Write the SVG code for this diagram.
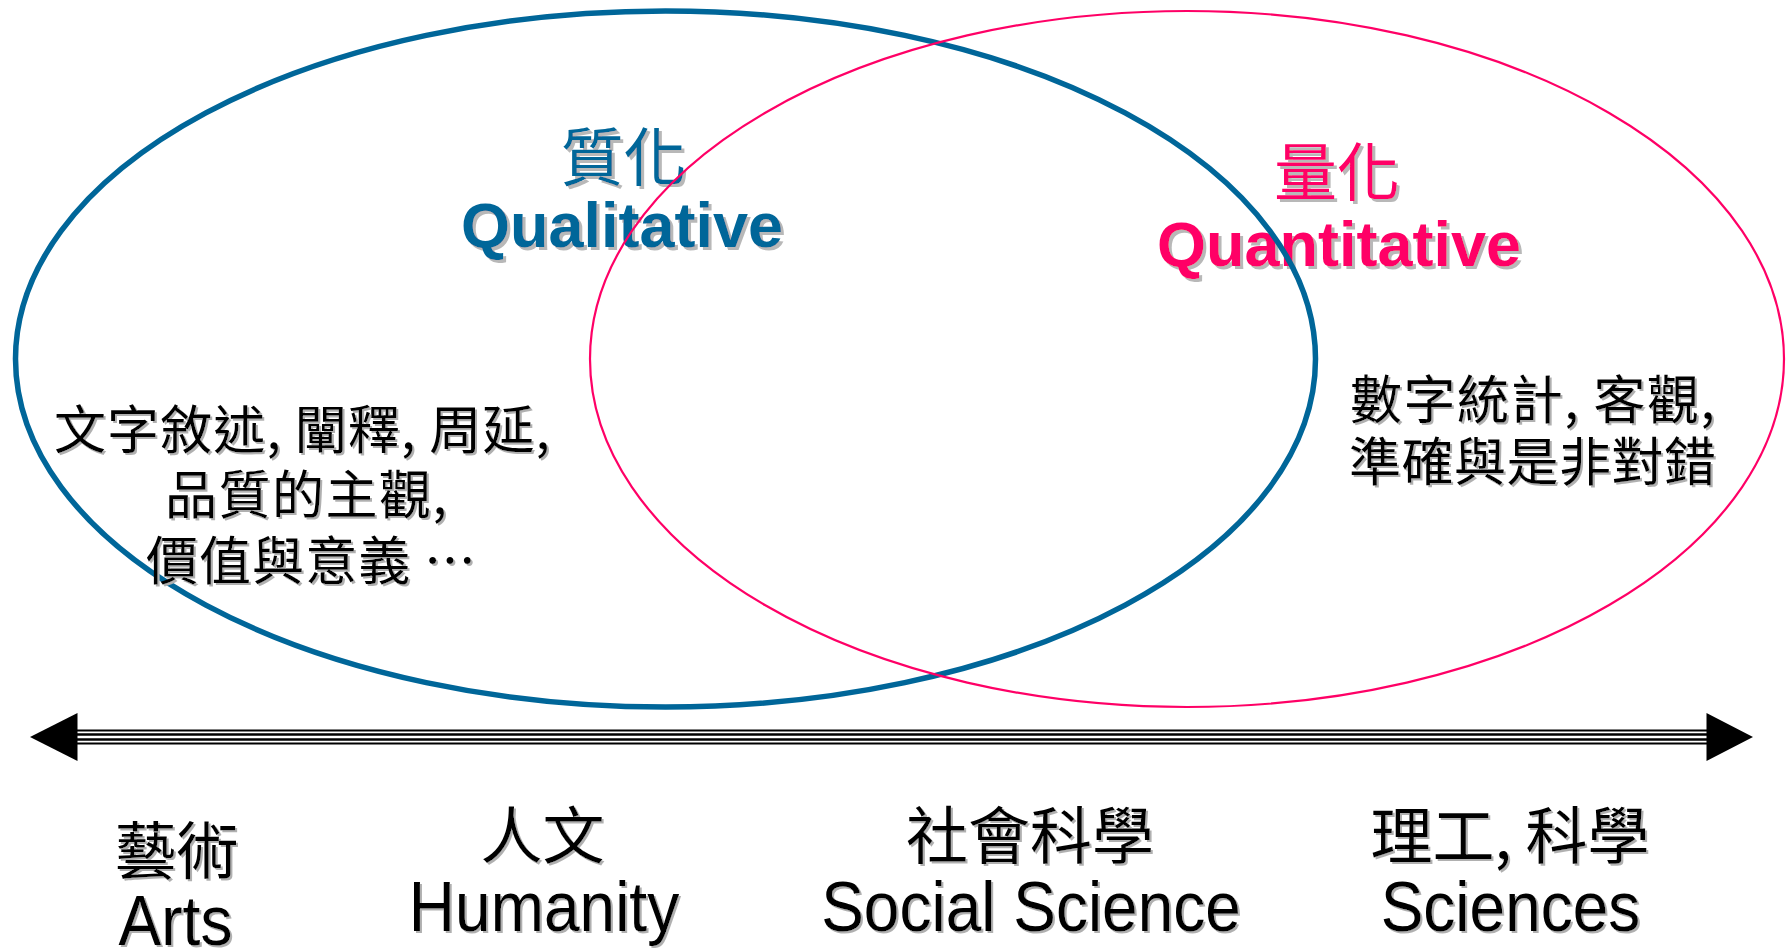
<svg xmlns="http://www.w3.org/2000/svg" width="1787" height="951" viewBox="0 0 1787 951">
<defs>
<filter id="sh" x="-5%" y="-20%" width="115%" height="150%">
<feFlood flood-color="#b0b0b0" result="c"/>
<feComposite in="c" in2="SourceAlpha" operator="in" result="s"/>
<feOffset in="s" dx="2" dy="2" result="o"/>
<feMerge><feMergeNode in="o"/><feMergeNode in="SourceGraphic"/></feMerge>
</filter>
<filter id="sh3" x="-5%" y="-20%" width="115%" height="150%">
<feFlood flood-color="#b8b8b8" result="c"/>
<feComposite in="c" in2="SourceAlpha" operator="in" result="s"/>
<feOffset in="s" dx="3" dy="3" result="o"/>
<feMerge><feMergeNode in="o"/><feMergeNode in="SourceGraphic"/></feMerge>
</filter>
</defs>
<style>
.cjk{font-family:"Noto Sans CJK TC","Noto Sans CJK SC",sans-serif;}
.lat{font-family:"Liberation Sans",Arial,sans-serif;}
.bold{font-weight:bold;}
.blue{fill:#006699;}
.pink{fill:#FF0066;}
.blk{fill:#000000;}
.mid{text-anchor:middle;}
</style>
<rect width="1787" height="951" fill="#ffffff"/>
<g id="title-qualitative" filter="url(#sh3)">
<text class="cjk blue mid" x="623.5" y="180" font-size="63">質化</text>
<text class="lat bold blue mid" x="622" y="247" font-size="63">Qualitative</text>
</g>
<g id="title-quantitative" filter="url(#sh3)">
<text class="cjk pink mid" x="1337" y="195" font-size="63">量化</text>
<text class="lat bold pink mid" x="1339" y="266" font-size="63">Quantitative</text>
</g>
<g id="qualitative-ellipse">
<ellipse cx="665.5" cy="359" rx="650" ry="348" fill="none" stroke="#006699" stroke-width="5.5"/>
</g>
<g id="quantitative-ellipse">
<ellipse cx="1187" cy="359" rx="597" ry="348" fill="none" stroke="#FF0066" stroke-width="2.2"/>
</g>
<g id="qualitative-text" filter="url(#sh)" class="cjk blk" font-size="52">
<text x="54" y="448.5" textLength="496" lengthAdjust="spacing">文字敘述, 闡釋, 周延,</text>
<text x="165" y="513.5" textLength="282" lengthAdjust="spacing">品質的主觀,</text>
<text x="146" y="580" textLength="330" lengthAdjust="spacing">價值與意義 …</text>
</g>
<g id="quantitative-text" filter="url(#sh)" class="cjk blk" font-size="52">
<text x="1350" y="419" textLength="365" lengthAdjust="spacing">數字統計, 客觀,</text>
<text x="1349" y="481" textLength="367" lengthAdjust="spacing">準確與是非對錯</text>
</g>
<g id="connectors">
<g stroke="#000000" fill="none">
<line x1="76" y1="730.5" x2="1708" y2="730.5" stroke-width="2"/>
<line x1="76" y1="734.5" x2="1708" y2="734.5" stroke-width="2.5"/>
<line x1="76" y1="739.5" x2="1708" y2="739.5" stroke-width="2.5"/>
<line x1="76" y1="743.5" x2="1708" y2="743.5" stroke-width="2"/>
</g>
<polygon points="30,737 77.5,713 77.5,761" fill="#000000"/>
<polygon points="1753,737 1706.5,713 1706.5,761" fill="#000000"/>
</g>
<g id="label-arts" filter="url(#sh)">
<text class="cjk blk mid" x="176.5" y="874" font-size="62">藝術</text>
<text class="lat blk mid" font-size="64" transform="translate(175.5 945) scale(1 1.1)">Arts</text>
</g>
<g id="label-humanity" filter="url(#sh)">
<text class="cjk blk mid" x="542.5" y="859" font-size="62">人文</text>
<text class="lat blk mid" font-size="64" transform="translate(544 931) scale(1 1.1)">Humanity</text>
</g>
<g id="label-social-science" filter="url(#sh)">
<text class="cjk blk mid" x="1030" y="859" font-size="62">社會科學</text>
<text class="lat blk mid" font-size="64" transform="translate(1031 931) scale(1 1.1)">Social Science</text>
</g>
<g id="label-sciences" filter="url(#sh)">
<text class="cjk blk mid" x="1510" y="859" font-size="62">理工, 科學</text>
<text class="lat blk mid" font-size="64" transform="translate(1510.5 931) scale(1 1.1)">Sciences</text>
</g>
</svg>
